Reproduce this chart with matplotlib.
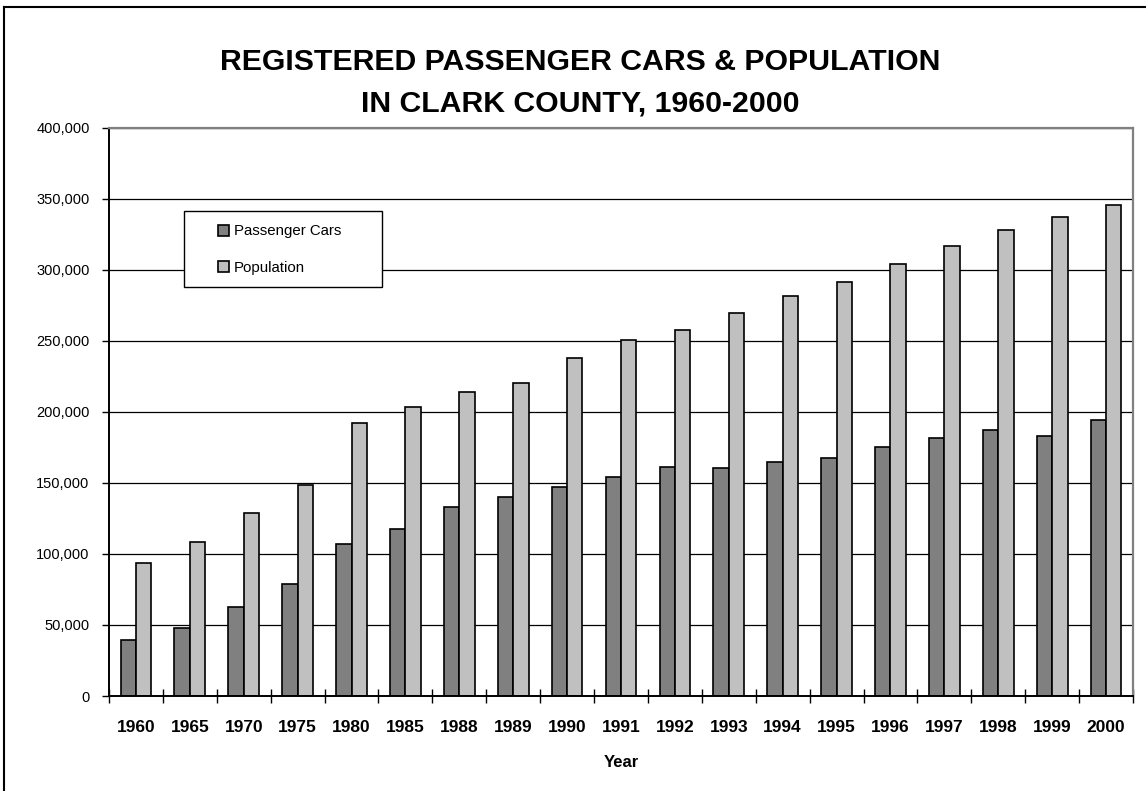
import numpy as np
import matplotlib
matplotlib.use('Agg')
import matplotlib.pyplot as plt
from matplotlib.lines import Line2D
from matplotlib.patches import Patch, Rectangle

years = ['1960', '1965', '1970', '1975', '1980', '1985', '1988', '1989', '1990', '1991',
         '1992', '1993', '1994', '1995', '1996', '1997', '1998', '1999', '2000']
cars = [39400, 48000, 62600, 79200, 106800, 117400, 132900, 139900, 147400, 154100,
        161400, 160800, 165000, 167800, 175200, 182000, 187100, 183200, 194700]
population = [93700, 108500, 128600, 148800, 192400, 203400, 214400, 220500, 238100, 250700,
              257700, 269700, 281500, 291300, 304000, 317100, 328400, 337600, 345500]
y_ticks = [0, 50000, 100000, 150000, 200000, 250000, 300000, 350000, 400000]

plt.rcParams['font.family'] = ['Liberation Sans', 'DejaVu Sans']

fig = plt.figure(figsize=(11.46, 7.91), dpi=100)
ax = fig.add_axes([109 / 1146, 1 - 696 / 791, 1024 / 1146, 568 / 791])

x = np.arange(len(years))
w = 0.285
ax.bar(x - w / 2, cars, w, color='#808080', edgecolor='black', linewidth=1.2,
       zorder=3, label='Passenger Cars')
ax.bar(x + w / 2, population, w, color='#c0c0c0', edgecolor='black', linewidth=1.2,
       zorder=3, label='Population')

ax.set_xlim(-0.5, len(years) - 0.5)
ax.set_ylim(0, 400000)

# horizontal gridlines
ax.set_yticks(y_ticks)
ax.set_yticklabels([f'{v:,}' for v in y_ticks], fontsize=10.5)
ax.yaxis.grid(True, color='black', linewidth=0.9, zorder=1)
ax.tick_params(axis='y', direction='out', length=5, width=1, pad=9)

# year labels at centres, ticks on category boundaries
ax.set_xticks(x)
ax.set_xticklabels(years, fontsize=12.5, fontweight='bold')
ax.set_xticks(np.arange(-0.5, len(years)), minor=True)
ax.tick_params(axis='x', which='major', length=0, pad=17)
ax.tick_params(axis='x', which='minor', direction='inout', length=10, width=1)
ax.set_xlabel('Year', fontsize=12, fontweight='bold', labelpad=15)

for side in ['left', 'bottom']:
    ax.spines[side].set_color('black')
    ax.spines[side].set_linewidth(1.4)
for side in ['top', 'right']:
    ax.spines[side].set_color('#808080')
    ax.spines[side].set_linewidth(1.6)
ax.spines['bottom'].set_zorder(4)

# legend box drawn separately so it can be wider than its entries
ax.add_patch(Rectangle((0.0732, 0.7201), 0.1934, 0.1338, transform=ax.transAxes,
                       facecolor='white', edgecolor='black', linewidth=1.0, zorder=5))
handles = [Patch(facecolor='#808080', edgecolor='black', linewidth=1.2),
           Patch(facecolor='#c0c0c0', edgecolor='black', linewidth=1.2)]
leg = ax.legend(handles, ['Passenger Cars', 'Population'], loc='upper left',
                bbox_to_anchor=(0.1064, 0.8305), fontsize=10.8, frameon=False,
                handlelength=0.75, handleheight=0.75, handletextpad=0.3,
                labelspacing=1.5, borderpad=0, borderaxespad=0)
leg.set_zorder(6)

fig.text(0.506, 1 - 62 / 791, 'REGISTERED PASSENGER CARS & POPULATION',
         ha='center', va='center', fontsize=21.8, fontweight='bold')
fig.text(0.506, 1 - 103 / 791, 'IN CLARK COUNTY, 1960-2000',
         ha='center', va='center', fontsize=21.8, fontweight='bold')

# outer chart border (runs off the right and bottom edges)
fig.add_artist(Line2D([4 / 1146, 4 / 1146], [0, 1 - 7 / 791], color='black',
                      linewidth=1.5, transform=fig.transFigure))
fig.add_artist(Line2D([4 / 1146, 1], [1 - 7 / 791, 1 - 7 / 791], color='black',
                      linewidth=1.5, transform=fig.transFigure))

fig.savefig('out.png', dpi=100)
